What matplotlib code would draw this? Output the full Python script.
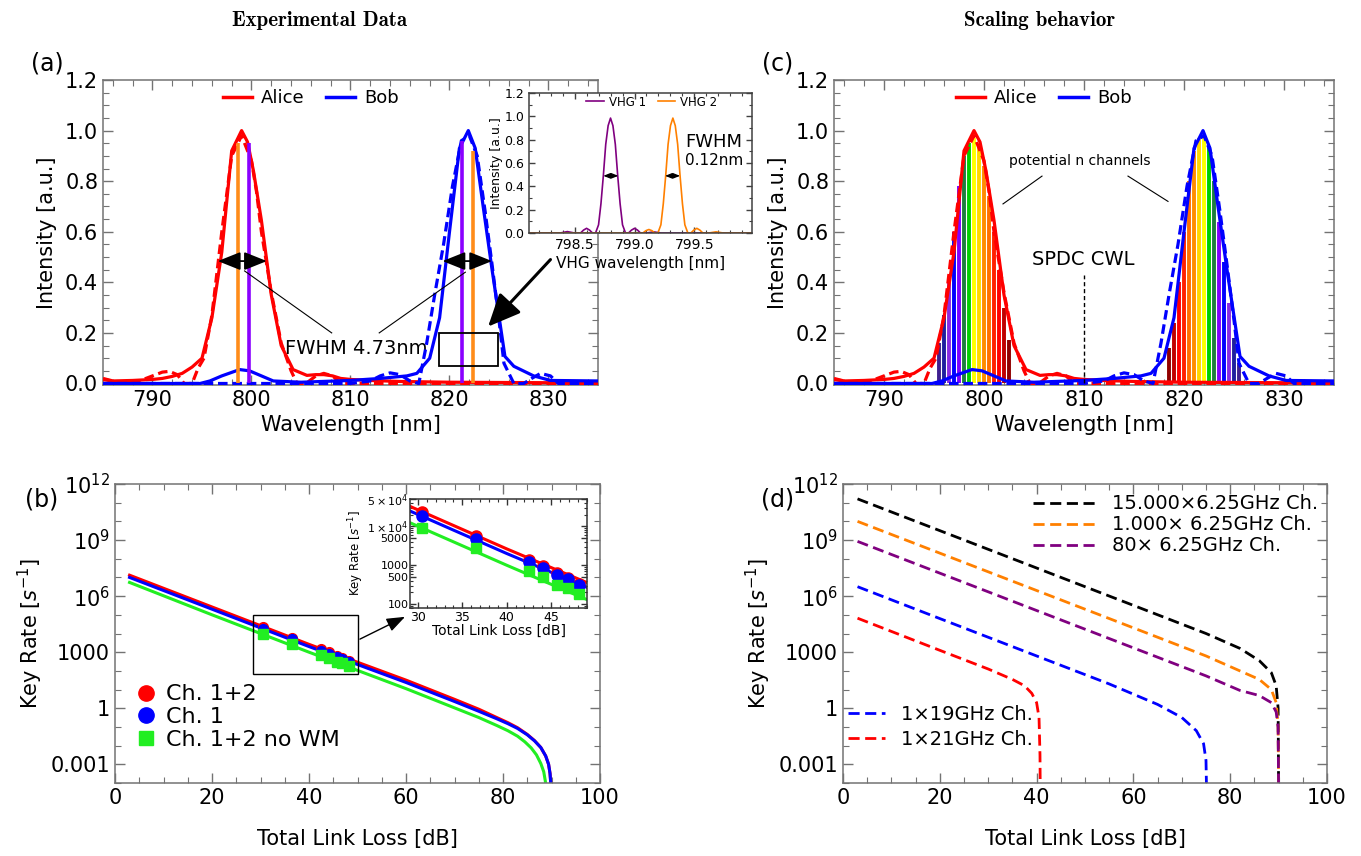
import matplotlib.pyplot as plt
from matplotlib.lines import Line2D
from matplotlib.patches import Rectangle
from matplotlib.ticker import MultipleLocator, FixedLocator, NullFormatter

# ---------------- spectra (panels a, c) ----------------
alice_wl = [785, 786, 788, 790, 791, 792, 793, 794, 795, 796, 797, 798, 798.5, 799, 799.6,
            800.2, 801, 802, 803, 804.2, 805.6, 806.5, 807.3, 808.2, 809, 810, 812, 815, 820, 825, 830, 835]
alice_int = [0.015, 0.01, 0.012, 0.016, 0.02, 0.028, 0.04, 0.065, 0.1, 0.26, 0.52, 0.92, 0.96, 1.0, 0.955,
             0.84, 0.645, 0.35, 0.15, 0.055, 0.032, 0.035, 0.035, 0.03, 0.02, 0.016, 0.012, 0.008, 0.005, 0.004, 0.003, 0.003]

alice_fit_wl = [785, 786, 788, 790, 791, 791.7, 792.5, 793.2, 794, 794.6, 795.2, 796, 797, 798, 799, 800,
                800.5, 801, 802, 803, 804, 804.6, 805.5, 806.5, 807.3, 808.2, 809, 812, 835]
alice_fit_int = [0.02, 0.01, 0.0, 0.03, 0.045, 0.048, 0.035, 0.0, 0.0, 0.06, 0.1, 0.27, 0.6, 0.9, 0.98, 0.88,
                 0.76, 0.6, 0.36, 0.16, 0.05, 0.0, 0.0, 0.03, 0.04, 0.03, 0.0, 0.0, 0.0]

bob_wl = [785, 790, 794.8, 795.8, 797, 798.8, 799.8, 801, 802.2, 805, 810, 813, 815.7, 816.7, 818, 819,
          820, 821, 821.9, 822.6, 823.4, 824.3, 825.6, 826.5, 828.5, 830.2, 835]
bob_int = [0.0, 0.0, 0.0, 0.01, 0.03, 0.055, 0.05, 0.03, 0.01, 0.005, 0.012, 0.02, 0.03, 0.04, 0.1, 0.26,
           0.6, 0.93, 1.0, 0.93, 0.7, 0.45, 0.107, 0.068, 0.03, 0.012, 0.01]

bob_fit_wl = [785, 810, 812, 813, 814, 815, 816, 816.9, 817.7, 818.5, 819.4, 820.3, 821.2, 822, 822.8,
              823.6, 824.3, 825, 825.5, 826.5, 827.5, 828.3, 829.2, 830.2, 831, 835]
bob_fit_int = [0.0, 0.0, 0.01, 0.03, 0.042, 0.035, 0.01, 0.0, 0.16, 0.35, 0.55, 0.78, 0.96, 0.98, 0.9,
               0.68, 0.47, 0.25, 0.08, 0.0, 0.0, 0.02, 0.04, 0.03, 0.0, 0.0]

# VHG filter positions in (a)
vhg_wl = [798.6, 799.75, 821.3, 822.35]
vhg_h = [0.95, 0.95, 0.96, 0.92]
vhg_col = ['#ff8c1a', '#8a00ff', '#8a00ff', '#ff8c1a']

# rainbow channels in (c)
left_bar_wl = [795.5, 796.0, 796.5, 797.0, 797.5, 798.0, 798.5, 799.0, 799.5, 800.0, 800.5, 801.0, 801.5, 802.0, 802.5]
left_bar_h = [0.16, 0.27, 0.42, 0.6, 0.78, 0.9, 0.95, 0.97, 0.94, 0.86, 0.74, 0.6, 0.45, 0.3, 0.17]
right_bar_wl = [818.5, 819.0, 819.5, 820.0, 820.5, 821.0, 821.5, 822.0, 822.5, 823.0, 823.5, 824.0, 824.5, 825.0, 825.5]
right_bar_h = [0.14, 0.24, 0.4, 0.6, 0.8, 0.92, 0.97, 0.98, 0.94, 0.8, 0.64, 0.48, 0.32, 0.18, 0.08]
bar_colors = ['#3f1f8f', '#1f1f9f', '#8a2be2', '#0000ff', '#7f00ff', '#1e7f3f', '#00d000', '#ffff00',
              '#ffd700', '#ff8c00', '#ff7000', '#ff2000', '#ff0000', '#c00000', '#900000']

# VHG transmission (inset a)
vhg1_wl = [798.12, 798.38, 798.44, 798.50, 798.55, 798.575, 798.60, 798.625, 798.65, 798.675, 798.70, 798.72,
           798.74, 798.76, 798.78, 798.80, 798.82, 798.84, 798.86, 798.88, 798.90, 798.925, 798.95, 798.975,
           799.00, 799.025, 799.05, 799.10, 799.16, 799.22, 799.98]
vhg1_int = [0.0, 0.0, 0.012, 0.0, 0.0, 0.025, 0.04, 0.025, 0.0, 0.0, 0.07, 0.25, 0.49, 0.76, 0.92, 0.985,
            0.92, 0.76, 0.49, 0.25, 0.07, 0.0, 0.0, 0.025, 0.04, 0.025, 0.0, 0.0, 0.01, 0.0, 0.0]
vhg2_wl = [798.12, 798.95, 799.07, 799.095, 799.12, 799.145, 799.17, 799.195, 799.22, 799.24, 799.26, 799.28,
           799.30, 799.32, 799.34, 799.36, 799.38, 799.40, 799.42, 799.445, 799.47, 799.495, 799.52, 799.545,
           799.57, 799.62, 799.68, 799.74, 799.98]
vhg2_int = [0.0, 0.0, 0.0, 0.02, 0.03, 0.02, 0.0, 0.0, 0.07, 0.25, 0.49, 0.76, 0.92, 0.985, 0.92, 0.76,
            0.49, 0.25, 0.07, 0.0, 0.0, 0.025, 0.04, 0.025, 0.0, 0.0, 0.01, 0.0, 0.0]

# ---------------- key rates (panel b) ----------------
loss_meas = [30.5, 36.5, 42.5, 44.1, 45.7, 46.9, 48.2]
rate_ch12 = [2.3e4, 5600, 1400, 980, 630, 470, 340]
rate_ch1 = [1.8e4, 4800, 1230, 850, 570, 440, 310]
rate_nowm = [9200, 2700, 700, 500, 315, 260, 180]

loss_sim = [3, 20, 40, 60, 70, 75, 78.7, 81, 83, 85, 86.5, 87.8, 88.8, 89.4, 89.7, 89.9]
sim_ch12 = [1.32e7, 2.63e5, 2.63e3, 32, 3.0, 0.89, 0.32, 0.17, 0.091, 0.04, 0.0186, 0.0079, 0.0028,
            0.001, 3.2e-4, 6.3e-5]
sim_ch1 = [1.0e7, 2.0e5, 2.0e3, 24, 2.3, 0.69, 0.275, 0.15, 0.083, 0.038, 0.018, 0.0079, 0.0028,
           0.001, 3.2e-4, 6.3e-5]
loss_sim_nowm = [3, 20, 40, 60, 70, 75, 78.7, 81, 83, 84.5, 85.8, 86.9, 87.8, 88.4, 88.7, 88.9]
sim_nowm = [5.4e6, 1.0e5, 1.0e3, 11.2, 1.05, 0.32, 0.12, 0.063, 0.032, 0.016, 0.0076, 0.0032, 0.0011,
            4e-4, 1.4e-4, 6.3e-5]

# ---------------- scaling (panel d) ----------------
loss_big = [3, 30, 60, 75, 82, 86, 88.5, 89.5, 89.9, 90.0]
rate_15000 = [1.6e11, 3.2e8, 3.2e5, 1.0e4, 1.6e3, 355, 80, 16, 1.0, 6e-5]
rate_1000 = [1.0e10, 2.0e7, 2.0e4, 630, 100, 35, 10, 2.0, 0.1, 6e-5]
rate_80 = [8.5e8, 1.7e6, 1.7e3, 54, 9, 4.8, 2.0, 0.63, 0.1, 6e-5]
loss_19 = [3, 20, 40, 55, 65, 70, 73, 74.5, 75, 75.1]
rate_19 = [3.2e6, 6.3e4, 630, 20, 1.6, 0.32, 0.063, 0.0126, 0.0016, 6e-5]
loss_21 = [3, 20, 30, 35, 37.5, 39, 40, 40.5, 40.7, 40.75]
rate_21 = [6.6e4, 1.26e3, 126, 35, 16, 6.3, 2.0, 0.32, 0.0032, 6e-5]

DX = 1361
DY = 856


def box(l, t, r, b):
    return [l / DX, 1 - b / DY, (r - l) / DX, (b - t) / DY]


def frame(ax, size=15, spine='0.45'):
    ax.tick_params(which='both', direction='in', top=True, right=True,
                   color=spine, labelsize=size)
    ax.tick_params(which='major', length=7, width=1)
    ax.tick_params(which='minor', length=4, width=0.8)
    for s in ax.spines.values():
        s.set_color(spine)
        s.set_linewidth(1.1)


def spectrum(ax):
    ax.plot(alice_wl, alice_int, color='red', lw=2.3, zorder=3)
    ax.plot(alice_fit_wl, alice_fit_int, color='red', lw=2.3, ls=(0, (3, 1.5)), zorder=3)
    ax.plot(bob_wl, bob_int, color='blue', lw=2.3, zorder=4)
    ax.plot(bob_fit_wl, bob_fit_int, color='blue', lw=2.3, ls=(0, (3, 1.5)), zorder=4)
    ax.set_xlim(785, 835)
    ax.set_ylim(-0.006, 1.2)
    ax.xaxis.set_major_locator(MultipleLocator(10))
    ax.xaxis.set_minor_locator(MultipleLocator(2))
    ax.yaxis.set_major_locator(MultipleLocator(0.2))
    ax.yaxis.set_minor_locator(MultipleLocator(0.05))
    ax.yaxis.set_major_formatter(lambda v, p: f'{v:.1f}')
    frame(ax)
    ax.set_xlabel('Wavelength [nm]', fontsize=15, labelpad=4)
    ax.set_ylabel('Intensity [a.u.]', fontsize=15, labelpad=6)
    hs = [Line2D([], [], color='red', lw=2.5), Line2D([], [], color='blue', lw=2.5)]
    ax.legend(hs, ['Alice', 'Bob'], loc='center', bbox_to_anchor=(0.42, 0.94), ncol=2,
              frameon=False, fontsize=13, handlelength=1.6, columnspacing=1.2, handletextpad=0.5)


def rate_axes(ax):
    ax.set_yscale('log')
    ax.set_xlim(0, 100)
    ax.set_ylim(1e-4, 1e12)
    ax.xaxis.set_major_locator(MultipleLocator(20))
    ax.xaxis.set_minor_locator(MultipleLocator(5))
    ax.yaxis.set_major_locator(FixedLocator([1e-3, 1, 1e3, 1e6, 1e9, 1e12]))
    ax.yaxis.set_major_formatter(lambda v, p: {1e-3: '0.001', 1: '1', 1e3: '1000', 1e6: '$10^6$',
                                               1e9: '$10^9$', 1e12: '$10^{12}$'}.get(v, ''))
    ax.yaxis.set_minor_locator(FixedLocator([10.0 ** k for k in range(-4, 13)]))
    ax.yaxis.set_minor_formatter(NullFormatter())
    frame(ax)
    ax.set_xlabel('Total Link Loss [dB]', fontsize=15, labelpad=15)
    ax.set_ylabel('Key Rate [$s^{-1}$]', fontsize=15, labelpad=4)


fig = plt.figure(figsize=(13.61, 8.56), dpi=100)

# ---------------- (a) ----------------
ax_a = fig.add_axes(box(103, 80, 598, 385))
spectrum(ax_a)
ax_a.vlines(vhg_wl, 0, vhg_h, colors=vhg_col, lw=2.6, zorder=5)
arrow2 = dict(arrowstyle='<|-|>,head_length=0.7,head_width=0.28', color='k', lw=1.3,
              mutation_scale=20, shrinkA=0, shrinkB=0)
ax_a.annotate('', xy=(796.6, 0.484), xytext=(801.55, 0.484), arrowprops=arrow2, zorder=6)
ax_a.annotate('', xy=(819.3, 0.484), xytext=(824.3, 0.484), arrowprops=arrow2, zorder=6)
ax_a.plot([799.3, 808.1], [0.445, 0.2], color='k', lw=0.8, zorder=6)
ax_a.plot([821.6, 812.9], [0.44, 0.2], color='k', lw=0.8, zorder=6)
ax_a.text(810.6, 0.137, 'FWHM 4.73nm', fontsize=14, ha='center', va='center')
ax_a.add_patch(Rectangle((818.9, 0.068), 6.0, 0.132, fill=False, ec='k', lw=1.3, zorder=6))
ax_a.annotate('', xy=(823.9, 0.225), xytext=(830.2, 0.49),
              arrowprops=dict(arrowstyle='-|>,head_length=1.0,head_width=0.45', color='k', lw=2.2,
                              mutation_scale=20, shrinkA=0, shrinkB=0), zorder=6)

# inset (a)
ax_ai = fig.add_axes(box(529, 93, 752, 233))
ax_ai.plot(vhg1_wl, vhg1_int, color='#800080', lw=1.2)
ax_ai.plot(vhg2_wl, vhg2_int, color='#ff8000', lw=1.2)
ax_ai.set_xlim(798.12, 799.98)
ax_ai.set_ylim(0, 1.2)
ax_ai.xaxis.set_major_locator(FixedLocator([798.5, 799.0, 799.5]))
ax_ai.xaxis.set_minor_locator(MultipleLocator(0.1))
ax_ai.yaxis.set_major_locator(MultipleLocator(0.2))
ax_ai.yaxis.set_minor_locator(MultipleLocator(0.1))
ax_ai.yaxis.set_major_formatter(lambda v, p: f'{v:.1f}')
frame(ax_ai, size=9, spine='0.25')
ax_ai.tick_params(which='major', length=4)
ax_ai.tick_params(which='minor', length=2)
ax_ai.tick_params(axis='x', labelsize=10)
ax_ai.set_xlabel('VHG wavelength [nm]', fontsize=11, labelpad=3)
ax_ai.set_ylabel('Intensity [a.u.]', fontsize=9, labelpad=1)
small = dict(arrowstyle='<|-|>,head_length=0.5,head_width=0.2', color='k', lw=0.9,
             mutation_scale=8, shrinkA=0, shrinkB=0)
ax_ai.annotate('', xy=(798.74, 0.49), xytext=(798.865, 0.49), arrowprops=small)
ax_ai.annotate('', xy=(799.255, 0.49), xytext=(799.38, 0.49), arrowprops=small)
ax_ai.text(799.42, 0.78, 'FWHM', fontsize=13, ha='left', va='center')
ax_ai.text(799.42, 0.62, '0.12nm', fontsize=11, ha='left', va='center')
ax_ai.legend([Line2D([], [], color='#800080', lw=1.2), Line2D([], [], color='#ff8000', lw=1.2)],
             ['VHG 1', 'VHG 2'], loc='center', bbox_to_anchor=(0.55, 0.935), ncol=2, frameon=False,
             fontsize=8.5, handlelength=1.5, columnspacing=1.0, handletextpad=0.4)

# ---------------- (c) ----------------
ax_c = fig.add_axes(box(834, 80, 1334, 385))
spectrum(ax_c)
ax_c.vlines(left_bar_wl, 0, left_bar_h, colors=bar_colors, lw=2.8, zorder=2)
ax_c.vlines(right_bar_wl, 0, right_bar_h, colors=bar_colors[::-1], lw=2.8, zorder=2)
ax_c.text(809.6, 0.88, 'potential n channels', fontsize=10, ha='center', va='center',
          bbox=dict(fc='white', ec='none', pad=1))
ax_c.plot([805.8, 801.9], [0.82, 0.71], color='k', lw=0.8)
ax_c.plot([814.4, 818.4], [0.82, 0.72], color='k', lw=0.8)
ax_c.text(809.9, 0.49, 'SPDC CWL', fontsize=14, ha='center', va='center')
ax_c.plot([810, 810], [0, 0.43], color='k', lw=1.0, ls=(0, (3, 2)), zorder=5)

# ---------------- (b) ----------------
ax_b = fig.add_axes(box(115, 484, 600, 783))
rate_axes(ax_b)
ax_b.plot(loss_sim, sim_ch12, color='red', lw=2.2)
ax_b.plot(loss_sim, sim_ch1, color='blue', lw=2.2)
ax_b.plot(loss_sim_nowm, sim_nowm, color='#22ee22', lw=2.2)
ax_b.plot(loss_meas, rate_ch12, 'o', color='red', ms=7)
ax_b.plot(loss_meas, rate_ch1, 'o', color='blue', ms=7)
ax_b.plot(loss_meas, rate_nowm, 's', color='#22ee22', ms=7)
ax_b.add_patch(Rectangle((28.4, 66), 21.6, 1e5 - 66, fill=False, ec='k', lw=1.0, zorder=5))
ax_b.annotate('', xy=(59.8, 7.8e4), xytext=(50.5, 5e3),
              arrowprops=dict(arrowstyle='-|>,head_length=0.8,head_width=0.3', color='k', lw=1.0,
                              mutation_scale=14, shrinkA=0, shrinkB=0))
hb = [Line2D([], [], marker='o', color='red', ls='', ms=11),
      Line2D([], [], marker='o', color='blue', ls='', ms=11),
      Line2D([], [], marker='s', color='#22ee22', ls='', ms=10)]
ax_b.legend(hb, ['Ch. 1+2', 'Ch. 1', 'Ch. 1+2 no WM'], loc='upper left', bbox_to_anchor=(0.04, 0.33),
            frameon=False, fontsize=16, handlelength=1.0, handletextpad=0.4, labelspacing=0.12,
            borderpad=0, borderaxespad=0)

# inset (b)
ax_bi = fig.add_axes(box(410, 499, 587, 608))
ax_bi.set_yscale('log')
ax_bi.plot(loss_sim, sim_ch12, color='red', lw=2.2)
ax_bi.plot(loss_sim, sim_ch1, color='blue', lw=2.2)
ax_bi.plot(loss_sim_nowm, sim_nowm, color='#22ee22', lw=2.2)
ax_bi.plot(loss_meas, rate_ch12, 'o', color='red', ms=8)
ax_bi.plot(loss_meas, rate_ch1, 'o', color='blue', ms=8)
ax_bi.plot(loss_meas, rate_nowm, 's', color='#22ee22', ms=7.5)
ax_bi.set_xlim(29.1, 49.05)
ax_bi.set_ylim(80, 5e4)
ax_bi.xaxis.set_major_locator(FixedLocator([30, 35, 40, 45]))
ax_bi.xaxis.set_minor_locator(MultipleLocator(1))
ax_bi.yaxis.set_major_locator(FixedLocator([100, 500, 1000, 5000, 1e4, 5e4]))
ax_bi.yaxis.set_major_formatter(lambda v, p: {100: '100', 500: '500', 1000: '1000', 5000: '5000',
                                              1e4: r'$1\times10^4$', 5e4: r'$5\times10^4$'}.get(v, ''))
ax_bi.yaxis.set_minor_formatter(NullFormatter())
frame(ax_bi, size=8, spine='0.2')
ax_bi.tick_params(which='major', length=4)
ax_bi.tick_params(which='minor', length=2)
ax_bi.tick_params(axis='x', labelsize=9, pad=2)
ax_bi.tick_params(axis='y', pad=1)
ax_bi.set_xlabel('Total Link Loss [dB]', fontsize=10, labelpad=0)
ax_bi.set_ylabel('Key Rate [$s^{-1}$]', fontsize=8.5, labelpad=1)

# ---------------- (d) ----------------
ax_d = fig.add_axes(box(843, 484, 1327, 783))
rate_axes(ax_d)
dash = (0, (4, 2))
l1, = ax_d.plot(loss_big, rate_15000, color='black', lw=2, ls=dash)
l2, = ax_d.plot(loss_big, rate_1000, color='#ff8000', lw=2, ls=dash)
l3, = ax_d.plot(loss_big, rate_80, color='#800080', lw=2, ls=dash)
l4, = ax_d.plot(loss_19, rate_19, color='blue', lw=2, ls=dash)
l5, = ax_d.plot(loss_21, rate_21, color='red', lw=2, ls=dash)
leg1 = ax_d.legend([l1, l2, l3], ['15.000×6.25GHz Ch.', '1.000× 6.25GHz Ch.', '80× 6.25GHz Ch.'],
                   loc='upper left', bbox_to_anchor=(0.393, 0.965), frameon=False, fontsize=14,
                   handlelength=3.3, handletextpad=0.75, labelspacing=0.1, borderpad=0, borderaxespad=0)
ax_d.add_artist(leg1)
ax_d.legend([l4, l5], ['1×19GHz Ch.', '1×21GHz Ch.'], loc='upper left', bbox_to_anchor=(0.01, 0.26),
            frameon=False, fontsize=14, handlelength=1.9, handletextpad=0.85, labelspacing=0.3,
            borderpad=0, borderaxespad=0)

# ---------------- labels ----------------
fig.text(320 / DX, 1 - 20 / DY, 'Experimental Data', fontfamily='cmb10', fontsize=15, ha='center', va='center')
fig.text(1040 / DX, 1 - 20 / DY, 'Scaling behavior', fontfamily='cmb10', fontsize=15, ha='center', va='center')
for lab, x, y in [('(a)', 47, 63), ('(c)', 778, 63), ('(b)', 42, 500), ('(d)', 778, 500)]:
    fig.text(x / DX, 1 - y / DY, lab, fontsize=17, ha='center', va='center')

fig.savefig('out.png', dpi=100)
